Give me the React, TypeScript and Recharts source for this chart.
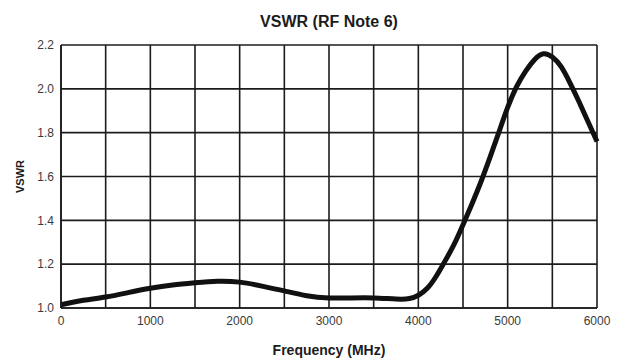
import { LineChart, Line, XAxis, YAxis, CartesianGrid, ReferenceLine } from "recharts";

const freqs = [0, 250, 500, 750, 1000, 1250, 1500, 1750, 2000, 2250, 2500, 2750, 3000, 3250, 3500, 3750, 3900, 4000, 4100, 4200, 4300, 4400, 4500, 4600, 4700, 4800, 4900, 5000, 5100, 5200, 5300, 5400, 5500, 5600, 5700, 5800, 5900, 6000];
const vswr = [1.015, 1.035, 1.05, 1.07, 1.09, 1.105, 1.115, 1.122, 1.118, 1.1, 1.078, 1.056, 1.046, 1.046, 1.046, 1.041, 1.043, 1.058, 1.09, 1.145, 1.215, 1.29, 1.38, 1.475, 1.575, 1.685, 1.8, 1.915, 2.01, 2.08, 2.133, 2.16, 2.145, 2.1, 2.025, 1.94, 1.85, 1.76];

const xTicks = [0, 1000, 2000, 3000, 4000, 5000, 6000];
const xMinor = [500, 1500, 2500, 3500, 4500, 5500];
const yTicks = [1.0, 1.2, 1.4, 1.6, 1.8, 2.0, 2.2];

const data = freqs.map((f, i) => ({ freq: f, vswr: vswr[i] }));

const FONT = "'Liberation Sans', Arial, sans-serif";
const INK = "#1c1c1c";

export default function App() {
  return (
    <div style={{ position: "absolute", left: 0, top: 0, width: 620, height: 360, background: "#fff", fontFamily: FONT }}>
      <div
        style={{
          position: "absolute",
          left: 61,
          width: 536,
          top: 13,
          textAlign: "center",
          fontSize: 16,
          fontWeight: "bold",
          color: INK,
        }}
      >
        VSWR (RF Note 6)
      </div>
      <LineChart width={620} height={360} data={data} margin={{ top: 45, right: 23, left: 0, bottom: 0 }}>
        <CartesianGrid stroke={INK} strokeWidth={1.6} />
        {xMinor.map((x) => (
          <ReferenceLine key={x} x={x} stroke={INK} strokeWidth={1.6} />
        ))}
        <XAxis
          dataKey="freq"
          type="number"
          domain={[0, 6000]}
          ticks={xTicks}
          height={52}
          tickSize={0}
          tickMargin={8}
          axisLine={{ stroke: INK, strokeWidth: 1.6 }}
          tick={{ fill: "#3a3a3a", fontSize: 12, fontFamily: FONT }}
          label={{ value: "Frequency (MHz)", position: "insideBottom", offset: 5, style: { fontSize: 14, fontWeight: "bold", fill: INK, fontFamily: FONT } }}
        />
        <YAxis
          type="number"
          domain={[1.0, 2.2]}
          ticks={yTicks}
          width={61}
          tickSize={0}
          tickMargin={7}
          axisLine={{ stroke: INK, strokeWidth: 1.6 }}
          tickFormatter={(v: number) => v.toFixed(1)}
          tick={{ fill: "#3a3a3a", fontSize: 12, fontFamily: FONT }}
          label={{ value: "VSWR", angle: -90, position: "insideLeft", offset: 20, style: { textAnchor: "middle", fontSize: 11, fontWeight: "bold", fill: INK, fontFamily: FONT } }}
        />
        <Line
          type="natural"
          dataKey="vswr"
          stroke="#111"
          strokeWidth={5}
          dot={false}
          activeDot={false}
          isAnimationActive={false}
        />
      </LineChart>
    </div>
  );
}
